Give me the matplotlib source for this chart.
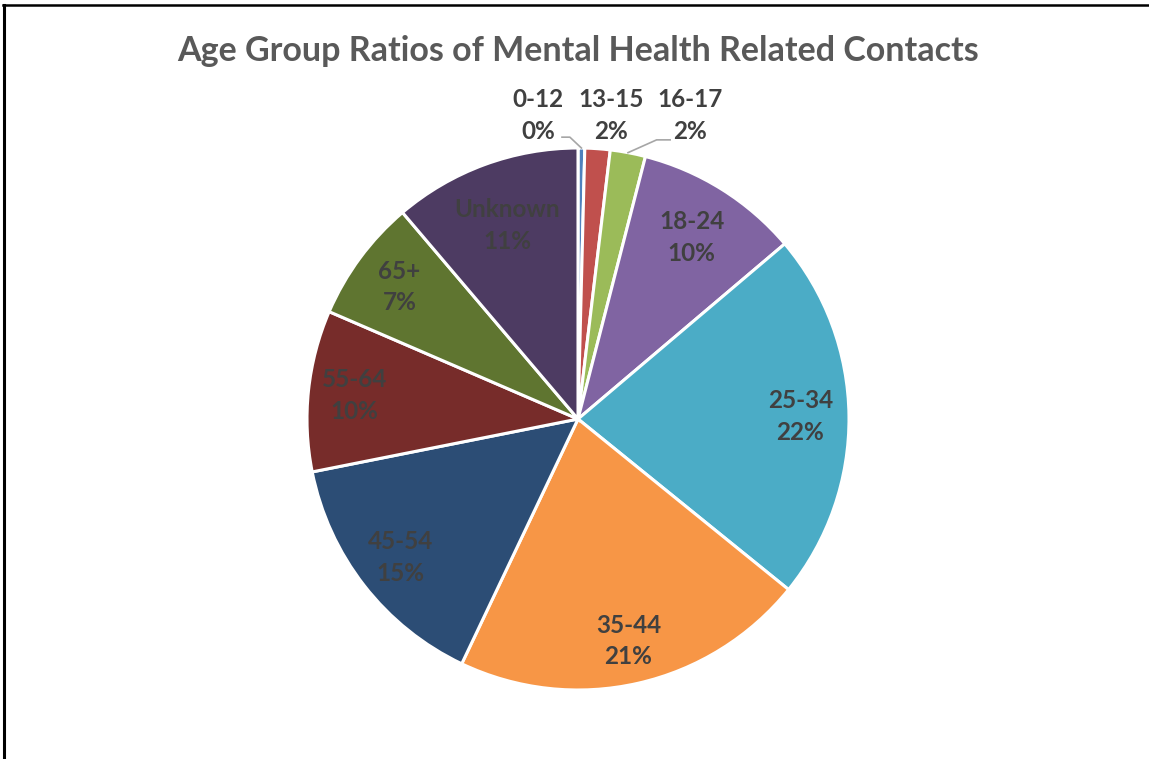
import numpy as np
import matplotlib
matplotlib.use("Agg")
import matplotlib.pyplot as plt
from matplotlib.lines import Line2D

## data
groups = ["0-12", "13-15", "16-17", "18-24", "25-34", "35-44", "45-54", "55-64", "65+", "Unknown"]
shares = [0.4, 1.5, 2.1, 9.8, 22.0, 21.2, 14.8, 9.6, 7.3, 11.2]
colors = ["#4F81BD", "#C0504D", "#9BBB59", "#8064A2", "#4BACC6",
          "#F79646", "#2C4D75", "#772C2A", "#5F7530", "#4D3B62"]
title = "Age Group Ratios of Mental Health Related Contacts"

plt.rcParams["font.family"] = ["Lato", "DejaVu Sans"]

W, H = 1149, 759
fig = plt.figure(figsize=(W/100, H/100), dpi=100)

# pie placed by pixel centre / radius
cx, cy, R = 578, 419, 271
ax = fig.add_axes([(cx-R)/W, (H-cy-R)/H, 2*R/W, 2*R/H])

wedges, _ = ax.pie(shares, colors=colors, startangle=90, counterclock=False,
                   radius=1.0, wedgeprops=dict(edgecolor="white", linewidth=2.2))
ax.set_xlim(-1, 1)
ax.set_ylim(-1, 1)
ax.set_aspect("equal")
ax.axis("off")

total = sum(shares)
labels = ["{}\n{:.0f}%".format(g, s/total*100) for g, s in zip(groups, shares)]

txtcol = "#404040"
fs = 17.5
lsp = 1.45

# label distance from centre for inside labels (excel "best fit" look)
label_r = [0, 0, 0, 0.79, 0.82, 0.84, 0.83, 0.83, 0.82, 0.76]
# small slices get labels outside, above the pie
outside = {0: -0.148, 1: 0.122, 2: 0.415}
for i, w in enumerate(wedges):
    ang = np.deg2rad((w.theta1 + w.theta2) / 2)
    if i in outside:
        ax.text(outside[i], 1.12, labels[i], ha="center", va="center",
                fontsize=fs, fontweight="bold", color=txtcol, linespacing=lsp)
    else:
        r = label_r[i]
        ax.text(r*np.cos(ang), r*np.sin(ang), labels[i], ha="center", va="center",
                fontsize=fs, fontweight="bold", color=txtcol, linespacing=lsp)

# leader lines for 0-12 and 16-17
for i, (ex, ey, hx) in {0: (-0.03, 1.04, -0.059), 2: (0.29, 1.03, 0.34)}.items():
    w = wedges[i]
    ang = np.deg2rad((w.theta1 + w.theta2) / 2)
    ax.plot([np.cos(ang)*1.0, ex, hx], [np.sin(ang)*1.0, ey, ey],
            color="#A6A6A6", lw=1.2, clip_on=False)

fig.text(cx/W, 1 - 51/H, title, ha="center", va="center", fontsize=24.5,
         fontweight="bold", color="#595959")

# border (top and left edges visible)
fig.add_artist(Line2D([4/W, 4/W], [0, 1 - 5/H], color="black", lw=2.2,
                      transform=fig.transFigure))
fig.add_artist(Line2D([3/W, 1], [1 - 5/H, 1 - 5/H], color="black", lw=1.8,
                      transform=fig.transFigure))

fig.savefig("out.png", dpi=100)
